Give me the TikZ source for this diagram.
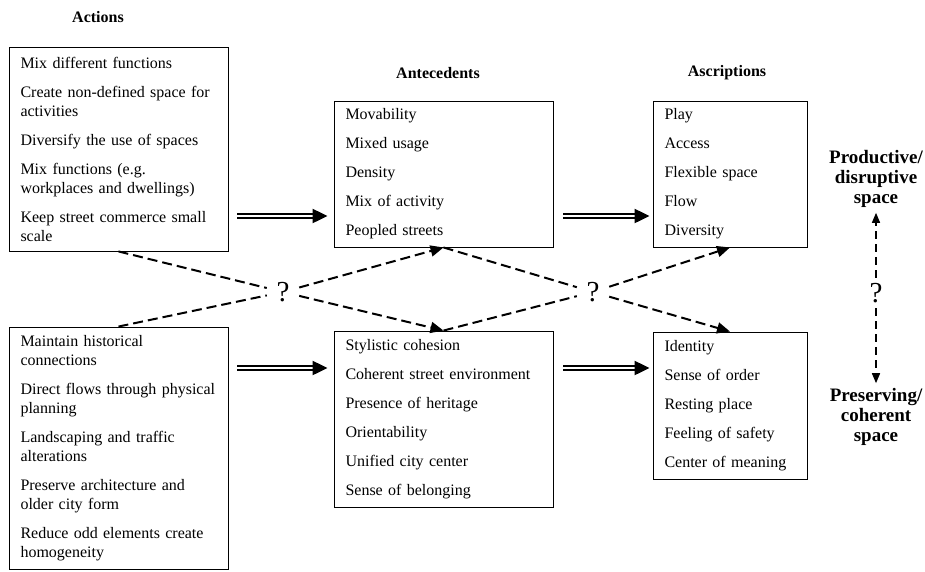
\documentclass[tikz,border=0pt]{standalone}
\usepackage{fontspec}
\setmainfont{Liberation Serif}
\usetikzlibrary{arrows.meta}

\begin{document}
\begin{tikzpicture}[
    x=1pt, y=-1pt,
    every node/.style={inner sep=0pt, font=\fontsize{16}{19}\selectfont},
    itembox/.style={draw, line width=0.9pt, align=left, inner xsep=11.5pt, inner ysep=0pt},
    head/.style={font=\fontsize{16}{19}\selectfont\bfseries},
    spacelbl/.style={font=\fontsize{19}{20}\selectfont\bfseries, align=center},
    qmark/.style={font=\fontsize{29}{29}\selectfont, minimum width=32pt, minimum height=30pt},
    dbl/.style={double, double distance=2.4pt, line width=2.2pt, -{Triangle[length=15pt,width=14pt]}},
    dashy/.style={line width=2pt, dash pattern=on 10pt off 5pt},
    tip/.style={-{Triangle[length=13pt,width=11pt]}},
    vdash/.style={line width=1.5pt, dash pattern=on 8pt off 5pt, -{Triangle[length=10pt,width=8pt]}}
]
\useasboundingbox (0,0) rectangle (925,571);

% column titles
\node[head] (tact) at (98,17) {Actions};
\node[head] (tant) at (438,73) {Antecedents};
\node[head] (tasc) at (727,73) {Ascriptions};

% actions
\node[itembox, minimum width=219pt, minimum height=204pt, text width=196pt] (act1) at (118.5,149)
    {Mix different functions\\[10pt]
     Create non-defined space for\\ activities\\[10pt]
     Diversify the use of spaces\\[10pt]
     Mix functions (e.g.\\ workplaces and dwellings)\\[10pt]
     Keep street commerce small\\ scale};
\node[itembox, minimum width=219pt, minimum height=242pt, text width=196pt] (act2) at (118.5,448)
    {Maintain historical\\ connections\\[10pt]
     Direct flows through physical\\ planning\\[10pt]
     Landscaping and traffic\\ alterations\\[10pt]
     Preserve architecture and\\ older city form\\[10pt]
     Reduce odd elements create\\ homogeneity};

% antecedents
\node[itembox, minimum width=219pt, minimum height=146pt, text width=196pt] (ant1) at (443.5,174)
    {Movability\\[10pt] Mixed usage\\[10pt] Density\\[10pt] Mix of activity\\[10pt] Peopled streets};
\node[itembox, minimum width=219pt, minimum height=176pt, text width=196pt] (ant2) at (443.5,419)
    {Stylistic cohesion\\[10pt] Coherent street environment\\[10pt] Presence of heritage\\[10pt]
     Orientability\\[10pt] Unified city center\\[10pt] Sense of belonging};

% ascriptions
\node[itembox, minimum width=154pt, minimum height=146pt, text width=131pt] (asc1) at (730,174)
    {Play\\[10pt] Access\\[10pt] Flexible space\\[10pt] Flow\\[10pt] Diversity};
\node[itembox, minimum width=154pt, minimum height=147pt, text width=131pt] (asc2) at (730,405.5)
    {Identity\\[10pt] Sense of order\\[10pt] Resting place\\[10pt] Feeling of safety\\[10pt] Center of meaning};

% outcomes
\node[spacelbl] (prod) at (876,179) {Productive/\\ disruptive\\ space};
\node[spacelbl] (pres) at (876,417) {Preserving/\\ coherent\\ space};

\node[qmark] (q1) at (283,292) {?};
\node[qmark] (q2) at (593,292) {?};
\node[qmark] (q3) at (876,293) {?};

% main arrows
\coordinate (row1) at (0,216);
\coordinate (row2) at (0,368);
\draw[dbl, shorten <=9pt, shorten >=6pt] (act1.east |- row1) -- (ant1.west |- row1);
\draw[dbl, shorten <=10pt, shorten >=3pt] (ant1.east |- row1) -- (asc1.west |- row1);
\draw[dbl, shorten <=9pt, shorten >=6pt] (act2.east |- row2) -- (ant2.west |- row2);
\draw[dbl, shorten <=10pt, shorten >=3pt] (ant2.east |- row2) -- (asc2.west |- row2);

% uncertain links
\draw[dashy] (act1.south) -- (q1);
\draw[dashy] (act2.north) -- (q1);
\draw[dashy, tip] (q1) -- (ant1.south);
\draw[dashy, tip] (q1) -- (ant2.north);
\draw[dashy] (ant1.south) -- (q2);
\draw[dashy] (ant2.north) -- (q2);
\draw[dashy, tip] (q2) -- (asc1.south);
\draw[dashy, tip] (q2) -- (asc2.north);
\draw[vdash, shorten >=5pt] (q3) -- (prod);
\draw[vdash, shorten >=5pt] (q3) -- (pres);
\end{tikzpicture}
\end{document}
